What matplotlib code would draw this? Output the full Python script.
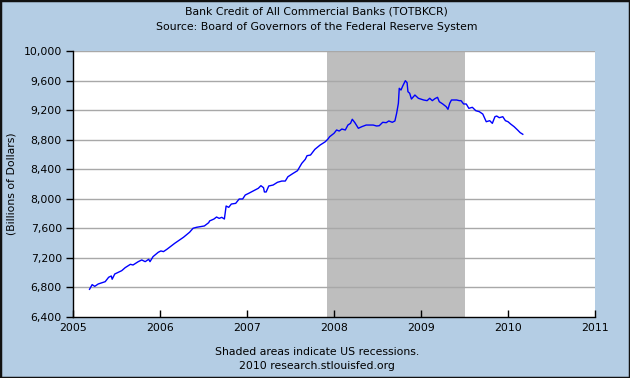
import matplotlib
matplotlib.use('Agg')
import matplotlib.pyplot as plt
from matplotlib.patches import Rectangle

# weekly series (decimal year, billions of dollars)
years = [2005.19, 2005.22, 2005.25, 2005.29, 2005.37, 2005.41, 2005.44, 2005.45,
         2005.48, 2005.56, 2005.60, 2005.66, 2005.69, 2005.75, 2005.79, 2005.83,
         2005.87, 2005.885, 2005.92, 2005.98, 2006.01, 2006.04, 2006.08, 2006.11,
         2006.17, 2006.21, 2006.27, 2006.34, 2006.38, 2006.42, 2006.51, 2006.56,
         2006.57, 2006.62, 2006.65, 2006.68, 2006.71, 2006.74, 2006.76, 2006.79,
         2006.82, 2006.87, 2006.91, 2006.95, 2006.98, 2007.02, 2007.07, 2007.13,
         2007.16, 2007.19, 2007.20, 2007.22, 2007.25, 2007.30, 2007.35, 2007.40,
         2007.44, 2007.47, 2007.53, 2007.58, 2007.63, 2007.67, 2007.69, 2007.73,
         2007.78, 2007.84, 2007.90, 2007.93, 2007.95, 2008.00, 2008.03, 2008.06,
         2008.09, 2008.13, 2008.16, 2008.19, 2008.21, 2008.24, 2008.28, 2008.32,
         2008.37, 2008.45, 2008.49, 2008.52, 2008.56, 2008.60, 2008.63, 2008.67,
         2008.70, 2008.72, 2008.74, 2008.75, 2008.77, 2008.79, 2008.82, 2008.84,
         2008.85, 2008.87, 2008.89, 2008.93, 2008.97, 2009.03, 2009.07, 2009.10,
         2009.13, 2009.16, 2009.19, 2009.21, 2009.25, 2009.29, 2009.31, 2009.33,
         2009.35, 2009.41, 2009.44, 2009.46, 2009.49, 2009.52, 2009.55, 2009.59,
         2009.63, 2009.67, 2009.71, 2009.75, 2009.79, 2009.82, 2009.85, 2009.87,
         2009.90, 2009.94, 2009.97, 2010.00, 2010.03, 2010.07, 2010.11, 2010.14,
         2010.17]
credit = [6775, 6838, 6815, 6847, 6878, 6938, 6955, 6911,
          6982, 7027, 7068, 7113, 7104, 7149, 7172, 7149,
          7181, 7149, 7217, 7276, 7294, 7285, 7317, 7344,
          7398, 7430, 7479, 7547, 7601, 7614, 7632, 7677,
          7700, 7726, 7753, 7735, 7749, 7726, 7902, 7884,
          7929, 7938, 7997, 7997, 8051, 8074, 8105, 8142,
          8177, 8150, 8092, 8092, 8173, 8186, 8223, 8240,
          8240, 8298, 8344, 8380, 8480, 8534, 8583, 8592,
          8669, 8727, 8772, 8808, 8840, 8886, 8931, 8917,
          8944, 8931, 8998, 9021, 9076, 9030, 8954, 8976,
          8998, 8998, 8985, 8989, 9035, 9030, 9053, 9035,
          9053, 9157, 9292, 9495, 9472, 9526, 9598, 9571,
          9449, 9428, 9350, 9404, 9360, 9337, 9328, 9360,
          9328, 9355, 9373, 9314, 9283, 9246, 9211, 9292,
          9337, 9337, 9328, 9328, 9283, 9283, 9224, 9238,
          9192, 9179, 9147, 9043, 9057, 9021, 9111, 9120,
          9097, 9111, 9057, 9043, 9012, 8976, 8931, 8895,
          8873]

recession_start = 2007.917
recession_end = 2009.5
year_ticks = [2005, 2006, 2007, 2008, 2009, 2010, 2011]
value_ticks = [6400, 6800, 7200, 7600, 8000, 8400, 8800, 9200, 9600, 10000]

bg = '#b4cde4'
fs = 7.8
fig = plt.figure(figsize=(6.3, 3.78), dpi=100, facecolor=bg)
ax = fig.add_axes([73 / 630, 61 / 378, 522 / 630, 266 / 378])
ax.set_facecolor('white')

ax.axvspan(recession_start, recession_end, color='#bebebe', lw=0, zorder=1)
for v in value_ticks[1:]:
    ax.axhline(v, color='#a8a8a8', lw=1.0, zorder=2)
ax.plot(years, credit, color='#0000ff', lw=1.0, zorder=3)

ax.set_xlim(2005, 2011)
ax.set_ylim(6400, 10000)
ax.set_xticks(year_ticks)
ax.set_xticklabels([str(y) for y in year_ticks])
ax.set_yticks(value_ticks)
ax.set_yticklabels(['{:,}'.format(v) for v in value_ticks])

for side in ['top', 'right']:
    ax.spines[side].set_visible(False)
for side in ['left', 'bottom']:
    ax.spines[side].set_color('black')
    ax.spines[side].set_linewidth(1.0)

ax.tick_params(axis='y', direction='out', length=5, width=1, pad=3,
               labelsize=fs, colors='black')
ax.tick_params(axis='x', direction='in', length=5, width=1, pad=4,
               labelsize=fs, colors='black')

ax.set_ylabel('(Billions of Dollars)', fontsize=fs, labelpad=5)

fig.text(0.503, 1 - 12 / 378, 'Bank Credit of All Commercial Banks (TOTBKCR)',
         ha='center', va='center', fontsize=fs)
fig.text(0.503, 1 - 27 / 378, 'Source: Board of Governors of the Federal Reserve System',
         ha='center', va='center', fontsize=fs)
fig.text(0.503, 1 - 352 / 378, 'Shaded areas indicate US recessions.',
         ha='center', va='center', fontsize=fs)
fig.text(0.503, 1 - 366 / 378, '2010 research.stlouisfed.org',
         ha='center', va='center', fontsize=fs)

# dark frame around the whole image
fig.patches.append(Rectangle((0, 0), 1, 1, transform=fig.transFigure,
                             fill=False, edgecolor='#111111', lw=2.5))

fig.savefig('out.png', dpi=100, facecolor=bg)
